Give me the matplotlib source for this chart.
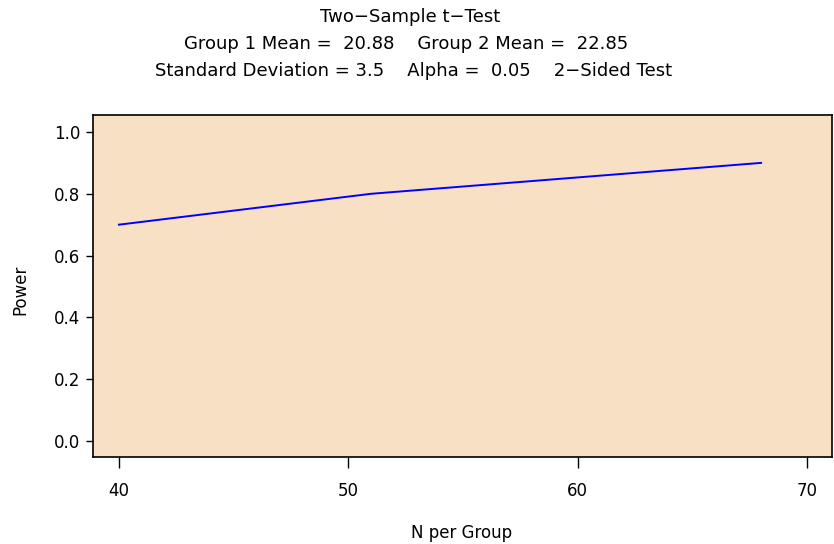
import matplotlib
matplotlib.use("Agg")
import matplotlib.pyplot as plt

n_per_group = [40, 51, 68]
power = [0.70, 0.80, 0.90]
x_ticks = [40, 50, 60, 70]
y_ticks = [0.0, 0.2, 0.4, 0.6, 0.8, 1.0]

plt.rcParams['font.family'] = ['DejaVu Sans']

W, H = 834, 544
fig = plt.figure(figsize=(W / 100, H / 100), dpi=100)
ax = fig.add_axes([93 / W, 1 - 457 / H, (832 - 93) / W, (457 - 115) / H])
ax.set_facecolor('#F7E0C4')
ax.plot(n_per_group, power, color='#0000FF', lw=1.4)

ax.set_xlim(38.87, 71.09)
ax.set_ylim(-0.052, 1.055)
ax.set_xticks(x_ticks)
ax.set_xticklabels([str(v) for v in x_ticks])
ax.set_yticks(y_ticks)
ax.set_yticklabels([f"{v:.1f}" for v in y_ticks])
ax.tick_params(axis='x', direction='out', length=8, width=1, pad=10, labelsize=12)
ax.tick_params(axis='y', direction='out', length=5, width=1, pad=4, labelsize=12)
for s in ax.spines.values():
    s.set_linewidth(1.2)

fig.text(462 / W, 1 - 533 / H, 'N per Group', ha='center', va='center', fontsize=12)
fig.text(20 / W, 1 - 290 / H, 'Power', ha='center', va='center', rotation=90, fontsize=12)

fig.text(410 / W, 1 - 17 / H, 'Two\u2212Sample t\u2212Test', ha='center', va='center', fontsize=13)
fig.text(406 / W, 1 - 44 / H, 'Group 1 Mean =  20.88    Group 2 Mean =  22.85', ha='center', va='center', fontsize=13)
fig.text(414 / W, 1 - 71 / H, 'Standard Deviation = 3.5    Alpha =  0.05    2\u2212Sided Test', ha='center', va='center', fontsize=13)

fig.savefig('out.png', dpi=100)
